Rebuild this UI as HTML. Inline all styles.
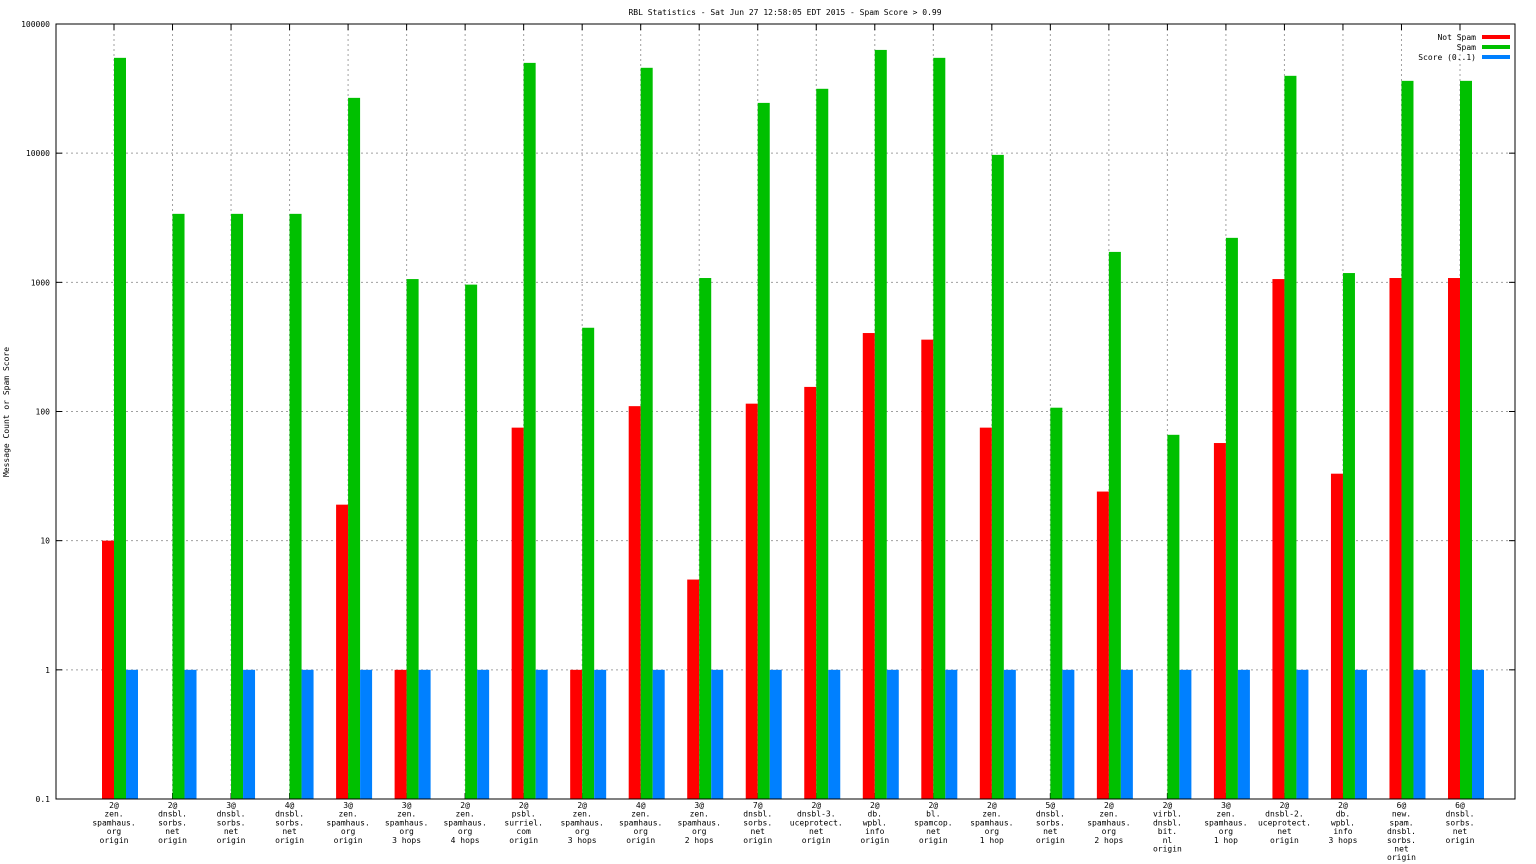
<!DOCTYPE html>
<html><head><meta charset="utf-8"><style>
html,body{margin:0;padding:0;background:#fff;}
svg{display:block;font-family:"DejaVu Sans Mono","Liberation Mono",monospace;font-size:8px;}
</style></head><body>
<svg id="chart" width="1536" height="864" xmlns="http://www.w3.org/2000/svg"></svg>
<script>
const categories = [
 ["2@","zen.","spamhaus.","org","origin"],
 ["2@","dnsbl.","sorbs.","net","origin"],
 ["3@","dnsbl.","sorbs.","net","origin"],
 ["4@","dnsbl.","sorbs.","net","origin"],
 ["3@","zen.","spamhaus.","org","origin"],
 ["3@","zen.","spamhaus.","org","3 hops"],
 ["2@","zen.","spamhaus.","org","4 hops"],
 ["2@","psbl.","surriel.","com","origin"],
 ["2@","zen.","spamhaus.","org","3 hops"],
 ["4@","zen.","spamhaus.","org","origin"],
 ["3@","zen.","spamhaus.","org","2 hops"],
 ["7@","dnsbl.","sorbs.","net","origin"],
 ["2@","dnsbl-3.","uceprotect.","net","origin"],
 ["2@","db.","wpbl.","info","origin"],
 ["2@","bl.","spamcop.","net","origin"],
 ["2@","zen.","spamhaus.","org","1 hop"],
 ["5@","dnsbl.","sorbs.","net","origin"],
 ["2@","zen.","spamhaus.","org","2 hops"],
 ["2@","virbl.","dnsbl.","bit.","nl","origin"],
 ["3@","zen.","spamhaus.","org","1 hop"],
 ["2@","dnsbl-2.","uceprotect.","net","origin"],
 ["2@","db.","wpbl.","info","3 hops"],
 ["6@","new.","spam.","dnsbl.","sorbs.","net","origin"],
 ["6@","dnsbl.","sorbs.","net","origin"]
];
const notSpam = [10,0,0,0,19,1,0,75,1,110,5,115,155,405,360,75,0,24,0,57,1060,33,1080,1080];
const spam = [54700,3390,3390,3390,26800,1060,960,50000,445,45800,1080,24500,31500,63000,54700,9700,107,1720,66,2210,39700,1180,36300,36300];
const score = [1,1,1,1,1,1,1,1,1,1,1,1,1,1,1,1,1,1,1,1,1,1,1,1];
const yTicks = [0.1,1,10,100,1000,10000,100000];
const yTickLabels = ["0.1","1","10","100","1000","10000","100000"];

const NS="http://www.w3.org/2000/svg";
const svg=document.getElementById('chart');
const L=56,R=1515,T=24,B=799;
const x0=114, dx=(1460-114)/23, bw=12;
function yScale(v){return B-(Math.log10(v)+1)/6*(B-T);}
function xScale(i){return x0+i*dx;}
function mk(tag,attrs,parent){const e=document.createElementNS(NS,tag);for(const k in attrs)e.setAttribute(k,attrs[k]);(parent||svg).appendChild(e);return e;}

// grid
yTicks.forEach((v,i)=>{
 const y=yScale(v);
 if(i>0&&i<yTicks.length-1){const g=mk('line',{x1:L,x2:R,y1:y,y2:y,stroke:'#a0a0a0','stroke-dasharray':'2,3'});
 
 }
 const t=mk('text',{x:L-6,y:y+3,'text-anchor':'end'});t.textContent=yTickLabels[i];
 
 
 mk('line',{x1:L,x2:L+6,y1:y,y2:y,stroke:'#000'});
 mk('line',{x1:R,x2:R-6,y1:y,y2:y,stroke:'#000'});
});
categories.forEach((c,i)=>{
 const x=xScale(i);
 const g=mk('line',{x1:x,x2:x,y1:T,y2:B,stroke:'#a0a0a0','stroke-dasharray':'2,3'});
 
 
 mk('line',{x1:x,x2:x,y1:B,y2:B-6,stroke:'#000'});
 mk('line',{x1:x,x2:x,y1:T,y2:T+6,stroke:'#000'});
 const t=mk('text',{x:x,y:808,'text-anchor':'middle'});
 
 
 c.forEach((ln,j)=>{const s=mk('tspan',{x:x,dy:j?8.7:0},t);s.textContent=ln;});
});
// bars
const series=[[notSpam,'#ff0000',-bw,'bar-not-spam'],[spam,'#00c000',0,'bar-spam'],[score,'#0080ff',bw,'bar-score']];
series.forEach(([arr,col,off,name])=>{
 arr.forEach((v,i)=>{
  if(!(v>0))return;
  const y=yScale(v);
  const r=mk('rect',{x:xScale(i)+off,y:y,width:bw,height:B-y,fill:col});
  
  
 });
});
// frame
const f=mk('rect',{x:L,y:T,width:R-L,height:B-T,fill:'none',stroke:'#000','stroke-width':1});


// title
const ti=mk('text',{x:785,y:15,'text-anchor':'middle'});ti.textContent='RBL Statistics - Sat Jun 27 12:58:05 EDT 2015 - Spam Score > 0.99';


const yt=mk('text',{x:9,y:412,'text-anchor':'middle',transform:'rotate(-90 9 412)'});yt.textContent='Message Count or Spam Score';


// legend
[['Not Spam','#ff0000'],['Spam','#00c000'],['Score (0..1)','#0080ff']].forEach(([n,c],i)=>{
 const y=37+i*10;
 const t=mk('text',{x:1476,y:y+3,'text-anchor':'end'});t.textContent=n;
 
 
 mk('rect',{x:1482,y:y-2,width:28,height:4,fill:c});
});
</script>
</body></html>
